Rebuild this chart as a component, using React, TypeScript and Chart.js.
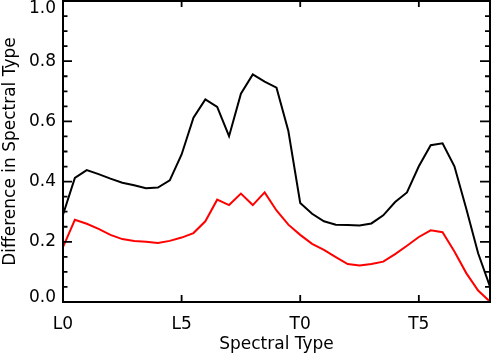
import React, { useEffect, useRef } from "react";
import { Chart, registerables } from "chart.js";

Chart.register(...registerables);

// Spectral type index: 0 = L0, 10 = T0
const spectralIndex = [
  0, 0.5, 1, 1.5, 2, 2.5, 3, 3.5, 4, 4.5, 5, 5.5, 6, 6.5, 7, 7.5, 8, 8.5, 9,
  9.5, 10, 10.5, 11, 11.5, 12, 12.5, 13, 13.5, 14, 14.5, 15, 15.5, 16, 16.5,
  17, 17.5, 18,
];

const blackSeries = [
  0.29, 0.412, 0.438, 0.425, 0.41, 0.396, 0.388, 0.378, 0.38, 0.404, 0.49,
  0.612, 0.673, 0.648, 0.551, 0.692, 0.756, 0.732, 0.712, 0.568, 0.329, 0.293,
  0.268, 0.257, 0.256, 0.254, 0.261, 0.288, 0.332, 0.364, 0.451, 0.521, 0.527,
  0.451, 0.31, 0.162, 0.051,
];

const redSeries = [
  0.182, 0.273, 0.26, 0.243, 0.223, 0.209, 0.203, 0.2, 0.196, 0.203, 0.214,
  0.229, 0.268, 0.34, 0.322, 0.36, 0.322, 0.364, 0.304, 0.257, 0.223, 0.193,
  0.173, 0.149, 0.126, 0.121, 0.126, 0.134, 0.159, 0.187, 0.216, 0.238, 0.232,
  0.168, 0.096, 0.038, 0.001,
];

const xTickValues = [0, 5, 10, 15];
const xTickLabels = ["L0", "L5", "T0", "T5"];
const yTickValues = [0, 0.2, 0.4, 0.6, 0.8, 1.0];
const yMinorTickValues = [
  0.05, 0.1, 0.15, 0.25, 0.3, 0.35, 0.45, 0.5, 0.55, 0.65, 0.7, 0.75, 0.85,
  0.9, 0.95,
];

const FONT = '"DejaVu Sans"';
const FSIZE = 17;

const framePlugin = {
  id: "idlFrame",
  afterDraw(chart: any) {
    const { ctx, chartArea: a, scales } = chart;
    const xs = scales.x;
    const ys = scales.y;
    ctx.save();
    ctx.strokeStyle = "#000";
    ctx.lineWidth = 2;
    ctx.strokeRect(a.left, a.top, a.right - a.left, a.bottom - a.top);
    ctx.lineWidth = 1.8;
    ctx.beginPath();
    for (const v of yTickValues) {
      const p = ys.getPixelForValue(v);
      ctx.moveTo(a.left, p);
      ctx.lineTo(a.left + 9, p);
      ctx.moveTo(a.right, p);
      ctx.lineTo(a.right - 10, p);
    }
    for (const v of yMinorTickValues) {
      const p = ys.getPixelForValue(v);
      ctx.moveTo(a.left, p);
      ctx.lineTo(a.left + 4.5, p);
      ctx.moveTo(a.right, p);
      ctx.lineTo(a.right - 5, p);
    }
    for (const v of xTickValues) {
      const p = xs.getPixelForValue(v);
      ctx.moveTo(p, a.bottom);
      ctx.lineTo(p, a.bottom - 7);
      ctx.moveTo(p, a.top);
      ctx.lineTo(p, a.top + 6);
    }
    ctx.stroke();

    ctx.fillStyle = "#000";
    ctx.font = `${FSIZE}px ${FONT}`;
    ctx.textAlign = "right";
    ctx.textBaseline = "middle";
    for (const v of yTickValues) {
      let p = ys.getPixelForValue(v);
      p = Math.max(a.top + 7.5, Math.min(a.bottom - 4.5, p));
      ctx.fillText(v.toFixed(1), a.left - 7, p);
    }
    ctx.restore();
  },
};

export default function App() {
  const canvasRef = useRef<HTMLCanvasElement | null>(null);

  useEffect(() => {
    document.body.style.margin = "0";
    const canvas = canvasRef.current;
    if (!canvas) return;
    const chart = new Chart(canvas, {
      type: "line",
      data: {
        datasets: [
          {
            data: spectralIndex.map((x, i) => ({ x, y: blackSeries[i] })),
            borderColor: "#000000",
            borderWidth: 2,
            pointRadius: 0,
            tension: 0,
            fill: false,
          },
          {
            data: spectralIndex.map((x, i) => ({ x, y: redSeries[i] })),
            borderColor: "#ff0000",
            borderWidth: 2,
            pointRadius: 0,
            tension: 0,
            fill: false,
          },
        ],
      },
      options: {
        animation: false,
        responsive: true,
        maintainAspectRatio: false,
        layout: { padding: { top: 1, right: 1, left: 0, bottom: 0 } },
        plugins: {
          legend: { display: false },
          tooltip: { enabled: false },
        },
        scales: {
          x: {
            type: "linear",
            min: 0,
            max: 18,
            grid: { display: false, drawTicks: false },
            border: { display: false },
            afterBuildTicks: (scale: any) => {
              scale.ticks = xTickValues.map((v) => ({ value: v }));
            },
            afterFit: (scale: any) => {
              scale.height = 53;
              scale.paddingLeft = 0;
              scale.paddingRight = 0;
            },
            ticks: {
              autoSkip: false,
              maxRotation: 0,
              padding: 12,
              color: "#000",
              font: { family: FONT, size: FSIZE },
              callback: (value: any) => {
                const i = xTickValues.indexOf(Number(value));
                return i >= 0 ? xTickLabels[i] : "";
              },
            },
            title: {
              display: true,
              text: "Spectral Type",
              color: "#000",
              font: { family: FONT, size: FSIZE },
              padding: { top: 0, bottom: 0 },
            },
          },
          y: {
            type: "linear",
            min: 0,
            max: 1,
            grid: { display: false, drawTicks: false },
            border: { display: false },
            afterBuildTicks: (scale: any) => {
              scale.ticks = yTickValues.map((v) => ({ value: v }));
            },
            afterFit: (scale: any) => {
              scale.width = 63;
              scale.paddingTop = 0;
              scale.paddingBottom = 0;
            },
            ticks: { display: false },
            title: {
              display: true,
              text: "Difference in Spectral Type",
              color: "#000",
              font: { family: FONT, size: FSIZE },
              padding: { top: 0, bottom: 0 },
            },
          },
        },
      },
      plugins: [framePlugin],
    });
    return () => chart.destroy();
  }, []);

  return (
    <div style={{ position: "relative", width: 491, height: 355 }}>
      <canvas ref={canvasRef} />
    </div>
  );
}
